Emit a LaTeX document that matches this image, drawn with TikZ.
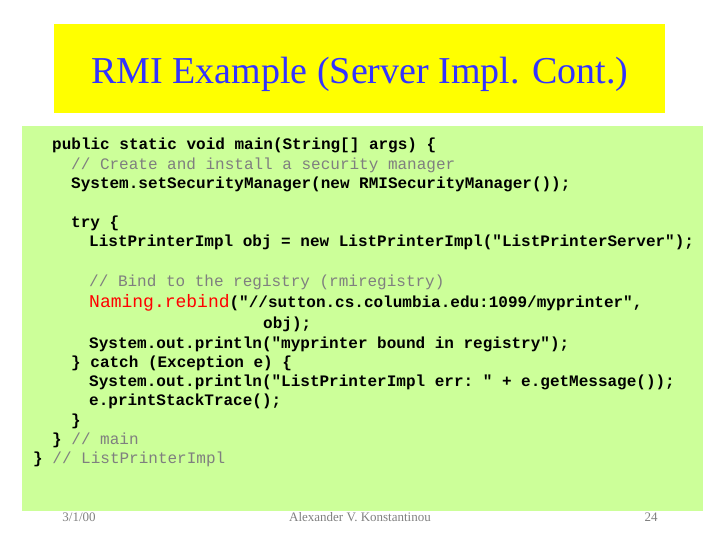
\documentclass[tikz,border=0pt]{standalone}
\usepackage{fontspec}
\setmainfont{Liberation Serif}
\setmonofont{Liberation Mono}
\definecolor{ttl}{HTML}{FFFF00}
\definecolor{grn}{HTML}{CCFF99}
\definecolor{ttlblue}{HTML}{3333FF}
\definecolor{cmt}{HTML}{7F7F7F}
\definecolor{foot}{HTML}{808080}
\begin{document}
\begin{tikzpicture}[x=1pt,y=-1pt,
  code/.style={anchor=base west,inner sep=0pt,font=\ttfamily\bfseries\fontsize{16}{16}\selectfont},
  cmtline/.style={code,font=\ttfamily\fontsize{16}{16}\selectfont,text=cmt},
  ft/.style={anchor=base,inner sep=0pt,text=foot,font=\fontsize{13}{13}\selectfont}]
\useasboundingbox (0,0) rectangle (720,540);
\fill[white] (0,0) rectangle (720,540);
\node[fill=ttl,minimum width=611pt,minimum height=89pt,anchor=north west,inner sep=0pt] (title) at (54,24) {};
\node[text=ttlblue,font=\fontsize{38}{38}\selectfont,anchor=base] (tt) at (360,84) {RMI Example (Server Impl. Cont.)};
\node[fill=grn,minimum width=681pt,minimum height=385pt,anchor=north west,inner sep=0pt] (panel) at (22,126) {};
\node[code] (l1) at (52,150) {public static void main(String[] args) \{};
\node[cmtline] (l2) at (71,170) {// Create and install a security manager};
\node[code] (l3) at (71,189) {System.setSecurityManager(new RMISecurityManager());};
\node[code] (l4) at (71,228) {try \{};
\node[code] (l5) at (89,247) {ListPrinterImpl obj = new ListPrinterImpl("ListPrinterServer");};
\node[cmtline] (l6) at (89,286) {// Bind to the registry (rmiregistry)};
\node[code] (l7) at (89,307) {{\mdseries\fontsize{18}{18}\selectfont\color{red}Naming.rebind}("//sutton.cs.columbia.edu:1099/myprinter",};
\node[code] (l8) at (263,328) {obj);};
\node[code] (l9) at (89,348) {System.out.println("myprinter bound in registry");};
\node[code] (l10) at (71,367) {\} catch (Exception e) \{};
\node[code] (l11) at (89,386) {System.out.println("ListPrinterImpl err: " + e.getMessage());};
\node[code] (l12) at (89,405) {e.printStackTrace();};
\node[code] (l13) at (71,425) {\}};
\node[code] (l14) at (52,444) {\} {\mdseries\color{cmt}// main}};
\node[code] (l15) at (33,463) {\} {\mdseries\color{cmt}// ListPrinterImpl}};
\node[ft] (f1) at (79,521) {3/1/00};
\node[ft] (f2) at (360,521) {Alexander V. Konstantinou};
\node[ft] (f3) at (651,521) {24};
\end{tikzpicture}
\end{document}
